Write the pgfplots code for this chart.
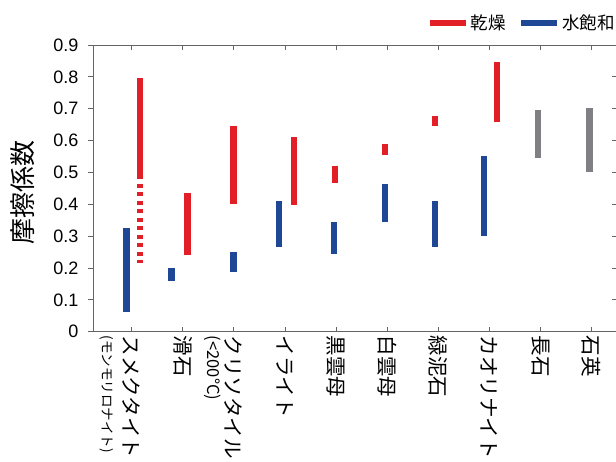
\documentclass[border=0pt]{standalone}
\usepackage{pgfplots}
\pgfplotsset{compat=1.18}
\usepackage{fontspec}
\setmainfont{Liberation Sans}
\newfontfamily\cjk{Noto Sans CJK JP}
\definecolor{dryred}{RGB}{226,30,38}
\definecolor{satblue}{RGB}{30,72,150}
\definecolor{bargray}{RGB}{128,128,132}
\definecolor{axgray}{RGB}{100,100,100}
\begin{document}
\begin{tikzpicture}
\path[use as bounding box] (0pt,0pt) rectangle (616pt,462pt);
\begin{axis}[
  at={(93pt,130.3pt)}, anchor=south west,
  scale only axis, width=524pt, height=286.7pt,
  xmin=-0.757, xmax=9.499, ymin=0, ymax=0.9,
  axis line style={axgray, line width=0.9pt},
  every tick/.style={axgray, line width=0.9pt},
  major tick length=5pt,
  xtick={0,1,2,3,4,5,6,7,8,9},
  xticklabels={スメクタイト,滑石,クリソタイル,イライト,黒雲母,白雲母,緑泥石,カオリナイト,長石,石英},
  xtick align=inside,
  xticklabel style={font=\cjk\fontsize{20.5}{22}\selectfont, yshift=-4pt, rotate=-90, anchor=west, inner sep=0pt},
  extra x ticks={-0.45,1.62},
  extra x tick labels={(モンモリロナイト),{\fontsize{16.5}{18}\selectfont(<200°C)}},
  extra x tick style={major tick length=0pt, xticklabel style={font=\cjk\fontsize{13.5}{15}\selectfont, yshift=-2pt}},
  ytick={0,0.1,0.2,0.3,0.4,0.5,0.6,0.7,0.8,0.9},
  ytick pos=left, ytick align=outside,
  yticklabel style={font=\fontsize{18}{20}\selectfont, xshift=-6pt, /pgf/number format/assume math mode=true, /pgf/number format/fixed, /pgf/number format/precision=1},
  ylabel={\cjk 摩擦係数},
  ylabel style={font=\fontsize{26}{28}\selectfont, at={(axis description cs:-0.1345,0.4855)}, anchor=center},
  unbounded coords=jump,
  legend columns=2,
  legend style={at={(axis description cs:1.0,1.076)}, anchor=east, draw=none, fill=none, font=\cjk\fontsize{17.5}{19}\selectfont, inner sep=0pt, /tikz/every even column/.append style={column sep=10pt}},
  legend image code/.code={\draw[#1, line width=3.5pt] (0pt,0pt) -- (29pt,0pt); \path (0pt,0pt) -- (36pt,0pt);},
]
% dry (red)
\addplot[dryred, line width=6.5pt, line cap=butt] coordinates {
 (0.162,0.797) (0.162,0.478) (0.162,nan)
 (1.096,0.436) (1.096,0.241) (1.096,nan)
 (1.99,0.647) (1.99,0.400) (1.99,nan)
 (3.18,0.610) (3.18,0.398) (3.18,nan)
 (3.98,0.521) (3.98,0.468) (3.98,nan)
 (4.96,0.588) (4.96,0.555) (4.96,nan)
 (5.94,0.677) (5.94,0.647) (5.94,nan)
 (7.15,0.846) (7.15,0.657)
};
\addlegendentry{乾燥}
% saturated (blue)
\addplot[satblue, line width=6.5pt, line cap=butt] coordinates {
 (-0.098,0.327) (-0.098,0.063) (-0.098,nan)
 (0.783,0.201) (0.783,0.160) (0.783,nan)
 (1.99,0.249) (1.99,0.188) (1.99,nan)
 (2.88,0.410) (2.88,0.267) (2.88,nan)
 (3.96,0.343) (3.96,0.243) (3.96,nan)
 (4.96,0.464) (4.96,0.345) (4.96,nan)
 (5.94,0.409) (5.94,0.267) (5.94,nan)
 (6.90,0.553) (6.90,0.301)
};
\addlegendentry{水飽和}
% dashed part of smectite dry
\addplot[dryred, line width=6.5pt, line cap=butt, dash pattern=on 4pt off 4.5pt, forget plot] coordinates {(0.162,0.464) (0.162,0.217)};
% gray
\addplot[bargray, line width=6.5pt, line cap=butt, forget plot] coordinates {
 (7.95,0.696) (7.95,0.546) (7.95,nan)
 (8.96,0.701) (8.96,0.501)
};
\end{axis}
\begin{axis}[
  at={(93pt,130.3pt)}, anchor=south west,
  scale only axis, width=524pt, height=286.7pt,
  xmin=-0.757, xmax=9.499, ymin=0, ymax=0.9,
  axis line style={axgray, line width=0.9pt},
  every tick/.style={axgray, line width=0.9pt},
  major tick length=5pt,
  xtick=\empty,
  ytick={0,0.1,0.2,0.3,0.4,0.5,0.6,0.7,0.8,0.9},
  ytick pos=right, ytick align=inside, yticklabels={},
]
\addplot[draw=none] coordinates {(0,0)};
\end{axis}
\end{tikzpicture}
\end{document}
